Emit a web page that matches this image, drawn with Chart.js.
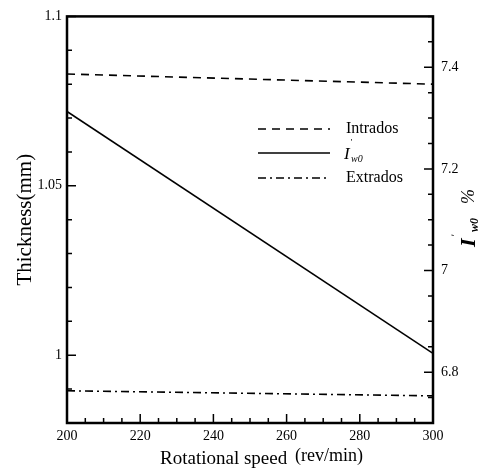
<!DOCTYPE html>
<html><head><meta charset="utf-8">
<script src="https://cdn.jsdelivr.net/npm/chart.js@4/dist/chart.umd.min.js"></script>
<style>html,body{margin:0;padding:0;background:#fff}#wrap{width:482px;height:470px}</style>
</head><body><div id="wrap"><canvas id="c" width="482" height="470"></canvas></div>
<script>
// ---- data ----
const speed = [200, 300];
const intrados = [1.083, 1.080];
const iw0 = [7.313, 6.837];
const extrados = [0.9895, 0.988];
const xTickValues = [200, 220, 240, 260, 280, 300];
const xTickLabels = ['200', '220', '240', '260', '280', '300'];
const yTickValues = [1, 1.05, 1.1];
const yTickLabels = ['1', '1.05', '1.1'];
const y1TickValues = [6.8, 7, 7.2, 7.4];
const y1TickLabels = ['6.8', '7', '7.2', '7.4'];
const seriesNames = ['Intrados', 'Iw0', 'Extrados'];
const xTitle = ['Rotational speed', '(rev/min)'];
const yTitle = 'Thickness(mm)';

const SERIF = '"Liberation Serif", "Times New Roman", serif';

function pts(vals) { return speed.map((x, i) => ({ x: x, y: vals[i] })); }

const frameAndTicks = {
  id: 'frameAndTicks',
  afterDatasetsDraw(chart) {
    const ctx = chart.ctx;
    const a = chart.chartArea;
    const xs = chart.scales.x, yl = chart.scales.y, yr = chart.scales.y1;
    ctx.save();
    ctx.strokeStyle = '#000';
    // minor / major ticks pointing inward
    ctx.lineWidth = 1.5;
    ctx.beginPath();
    for (let i = 0; i <= 20; i++) {
      const v = 200 + 5 * i;
      const len = (i % 4 === 0) ? 9 : 5;
      const px = xs.getPixelForValue(v);
      ctx.moveTo(px, a.bottom); ctx.lineTo(px, a.bottom - len);
    }
    for (let i = 0; i <= 12; i++) {
      const v = 0.98 + 0.01 * i;
      const major = Math.abs(v / 0.05 - Math.round(v / 0.05)) < 1e-6;
      const len = major ? 9 : 5;
      const py = yl.getPixelForValue(v);
      ctx.moveTo(a.left, py); ctx.lineTo(a.left + len, py);
    }
    for (let i = 0; i <= 16; i++) {
      const v = 6.7 + 0.05 * i;
      const major = Math.abs(v / 0.2 - Math.round(v / 0.2)) < 1e-6;
      const len = major ? 9 : 5;
      const py = yr.getPixelForValue(v);
      ctx.moveTo(a.right, py); ctx.lineTo(a.right - len, py);
    }
    ctx.stroke();
    // frame
    ctx.lineWidth = 2.5;
    ctx.strokeRect(a.left, a.top, a.right - a.left, a.bottom - a.top);

    // legend
    const ds = chart.data.datasets;
    const rows = [129, 153, 178];
    const lx0 = 258, lx1 = 330, tx = 346;
    ctx.fillStyle = '#000';
    ctx.textBaseline = 'middle';
    ctx.textAlign = 'left';
    ds.forEach((d, i) => {
      ctx.lineWidth = d.borderWidth;
      ctx.setLineDash(d.borderDash || []);
      ctx.beginPath();
      ctx.moveTo(lx0, rows[i]); ctx.lineTo(lx1, rows[i]);
      ctx.stroke();
    });
    ctx.setLineDash([]);
    ctx.font = '16px ' + SERIF;
    ctx.fillText(seriesNames[0], tx, rows[0]);
    ctx.fillText(seriesNames[2], tx, rows[2]);
    // I'w0 in legend
    ctx.textBaseline = 'alphabetic';
    ctx.font = 'italic 17px ' + SERIF;
    ctx.fillText('I', tx - 2, rows[1] + 6);
    ctx.font = 'italic 9px ' + SERIF;
    ctx.fillText('\u02B9', tx + 4, rows[1] - 8);
    ctx.font = 'italic 10px ' + SERIF;
    ctx.fillText('w0', tx + 5, rows[1] + 9);

    // x title
    ctx.font = '19px ' + SERIF;
    ctx.textBaseline = 'alphabetic';
    ctx.fillText(xTitle[0], 160, 464);
    ctx.font = '18px ' + SERIF;
    ctx.fillText(xTitle[1], 295, 461);

    // right title  I'w0 %
    ctx.save();
    ctx.translate(466, 217);
    ctx.rotate(-Math.PI / 2);
    ctx.textBaseline = 'alphabetic';
    ctx.font = 'italic bold 22px ' + SERIF;
    ctx.fillText('I', -30, 9);
    ctx.font = 'italic 11px ' + SERIF;
    ctx.fillText('\u02B9', -20, -8);
    ctx.font = 'italic bold 12px ' + SERIF;
    ctx.fillText('w0', -15, 12);
    ctx.font = 'italic 18px ' + SERIF;
    ctx.fillText('%', 13, 8);
    ctx.restore();

    ctx.restore();
  }
};

new Chart(document.getElementById('c'), {
  type: 'line',
  data: {
    datasets: [
      { label: seriesNames[0], data: pts(intrados), yAxisID: 'y', borderColor: '#000', borderWidth: 1.6, borderDash: [8, 6], pointRadius: 0, fill: false, tension: 0 },
      { label: seriesNames[1], data: pts(iw0), yAxisID: 'y1', borderColor: '#000', borderWidth: 1.6, borderDash: [], pointRadius: 0, fill: false, tension: 0 },
      { label: seriesNames[2], data: pts(extrados), yAxisID: 'y', borderColor: '#000', borderWidth: 1.6, borderDash: [8, 4, 2, 4], pointRadius: 0, fill: false, tension: 0 }
    ]
  },
  options: {
    responsive: false,
    animation: false,
    devicePixelRatio: 1,
    layout: { padding: { top: 13, left: 0, right: 0, bottom: 0 } },
    plugins: { legend: { display: false }, tooltip: { enabled: false } },
    scales: {
      x: {
        type: 'linear', position: 'bottom', min: 200, max: 300,
        afterBuildTicks: s => { s.ticks = xTickValues.map(v => ({ value: v })); },
        afterFit: s => { s.height = 47; },
        ticks: { padding: 5, color: '#000', font: { family: SERIF, size: 14 }, maxRotation: 0, autoSkip: false,
          callback: v => xTickLabels[xTickValues.indexOf(v)] },
        grid: { display: false, drawTicks: false },
        border: { display: false }
      },
      y: {
        type: 'linear', position: 'left', min: 0.98, max: 1.1,
        afterBuildTicks: s => { s.ticks = yTickValues.map(v => ({ value: v })); },
        afterFit: s => { s.width = 67; },
        ticks: { padding: 5, color: '#000', font: { family: SERIF, size: 14 },
          callback: v => yTickLabels[yTickValues.indexOf(v)] },
        grid: { display: false, drawTicks: false },
        border: { display: false },
        title: { display: true, text: yTitle, color: '#000', font: { family: SERIF, size: 21 }, padding: { top: 13, bottom: 0 } }
      },
      y1: {
        type: 'linear', position: 'right', min: 6.7, max: 7.5,
        afterBuildTicks: s => { s.ticks = y1TickValues.map(v => ({ value: v })); },
        afterFit: s => { s.width = 49; },
        ticks: { padding: 8, color: '#000', font: { family: SERIF, size: 14 },
          callback: v => y1TickLabels[y1TickValues.indexOf(v)] },
        grid: { display: false, drawTicks: false },
        border: { display: false }
      }
    }
  },
  plugins: [frameAndTicks]
});
</script></body></html>
